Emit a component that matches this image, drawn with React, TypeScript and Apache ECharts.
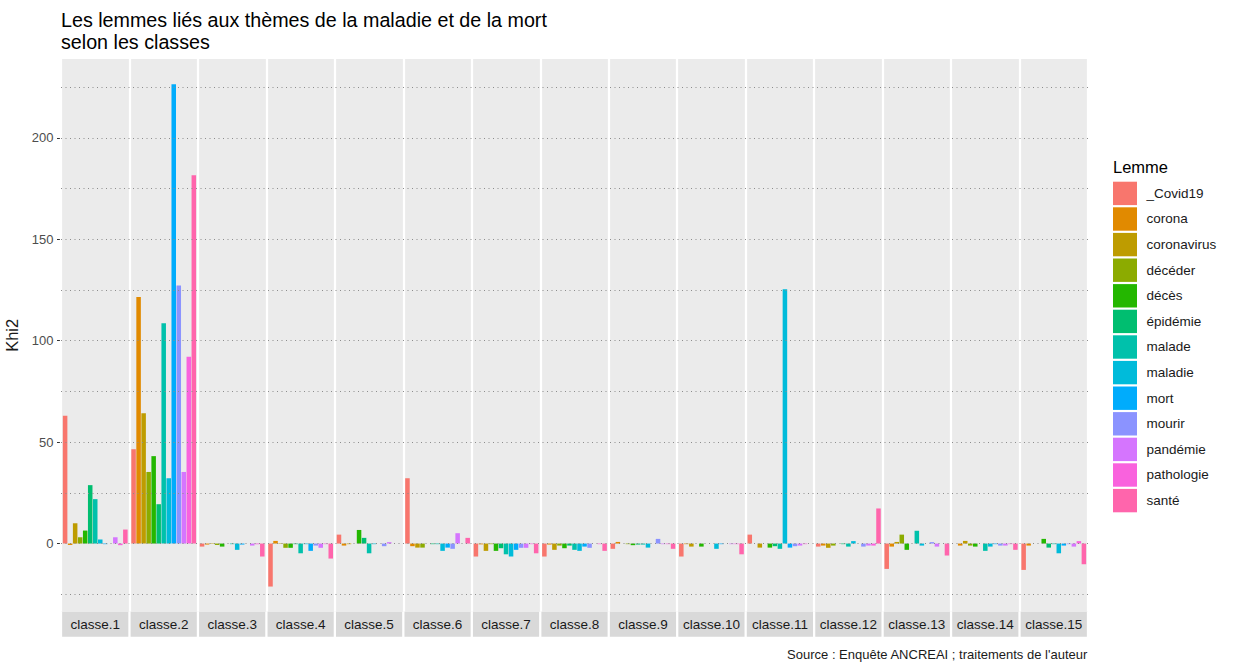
import React, { useEffect, useRef } from "react";
import * as echarts from "echarts";

const classes = [
  "classe.1", "classe.2", "classe.3", "classe.4", "classe.5", "classe.6", "classe.7", "classe.8",
  "classe.9", "classe.10", "classe.11", "classe.12", "classe.13", "classe.14", "classe.15",
];

const lemmes = [
  "_Covid19", "corona", "coronavirus", "décéder", "décès", "épidémie", "malade",
  "maladie", "mort", "mourir", "pandémie", "pathologie", "santé",
];

const lemmeColors = [
  "#F8766D", "#E18A00", "#BE9C00", "#8CAB00", "#24B700", "#00BE70", "#00C1AB",
  "#00BBDA", "#00ACFC", "#8B93FF", "#D575FE", "#F962DD", "#FF65AC",
];

// Khi2 values per lemma, one per class (classe.1 .. classe.15)
const covid19 = [63.0, 46.5, -1.5, -21.2, 4.4, 32.2, -6.4, -6.4, -2.6, -6.4, 4.4, -1.5, -12.5, 0, -13.0];
const corona = [-0.7, 121.6, -0.5, 1.3, -1.0, -1.3, -0.4, -0.5, 0.8, -0.3, 0, -1.0, -1.5, -1.0, -1.0];
const coronavirus = [10.0, 64.2, -0.2, -0.2, -0.3, -2.0, -3.6, -3.1, 0, -1.5, -2.0, -2.1, 0.8, 1.3, 0];
const deceder = [3.1, 35.3, -0.7, -2.1, 0, -2.0, -0.3, -1.0, -0.3, 0, 0, -1.0, 4.4, -1.0, 0];
const deces = [6.4, 43.1, -1.5, -2.1, 6.7, 0, -3.6, -2.3, -0.8, -1.5, -2.0, 0, -3.1, -1.5, 2.3];
const epidemie = [28.8, 19.4, 0, -0.3, 2.8, -0.3, -2.3, -1.0, -0.5, 0, -1.3, -0.3, 0, 0, -2.0];
const malade = [21.9, 108.6, -0.3, -4.8, -4.8, -0.3, -5.3, -3.1, -0.5, 0, -2.6, -1.5, 6.3, -3.6, -0.3];
const maladie = [2.0, 32.2, -3.1, -0.3, -0.3, -3.6, -6.4, -3.6, -2.0, -2.6, 125.4, 1.2, -1.0, -1.5, -4.8];
const mort = [-0.3, 226.5, -0.5, -3.6, 0, -2.0, -3.1, -1.5, 0, -0.3, -2.0, 0, 0, -0.3, -1.0];
const mourir = [0, 127.2, 0, -1.0, -1.3, -2.6, -2.1, -2.1, 2.3, 0, -1.3, -1.5, 0.7, -1.0, -0.3];
const pandemie = [3.1, 35.3, -1.0, -2.1, 0.7, 5.1, -2.1, 0, -0.3, -0.3, -1.0, -1.0, -1.5, -1.0, -1.5];
const pathologie = [-0.8, 92.1, -0.3, -0.3, 0, 0, -0.3, -0.3, -0.3, -0.3, -0.3, -1.0, 0, -0.3, 1.2];
const sante = [6.9, 181.6, -6.4, -7.4, 0, 2.8, -4.8, -3.6, -2.6, -5.3, 0, 17.3, -5.9, -3.1, -10.2];

const seriesValues = [
  covid19, corona, coronavirus, deceder, deces, epidemie, malade,
  maladie, mort, mourir, pandemie, pathologie, sante,
];

const yLabelTicks = [0, 50, 100, 150, 200];
const yGridLines = [-25, 0, 25, 50, 75, 100, 125, 150, 175, 200, 225];

const FONT = "'Liberation Sans', Arial, sans-serif";

export default function App() {
  const ref = useRef<HTMLDivElement>(null);

  useEffect(() => {
    if (!ref.current) return;
    const chart = echarts.init(ref.current, null, { renderer: "svg" });

    const barSeries = lemmes.map((name, i) => ({
      name,
      type: "bar",
      data: seriesValues[i],
      z: 3,
      barGap: "11%",
      barCategoryGap: "5.4%",
      itemStyle: { color: lemmeColors[i] },
      emphasis: { disabled: true },
    }));

    const option: any = {
      animation: false,
      textStyle: { fontFamily: FONT },
      title: {
        text: "Les lemmes liés aux thèmes de la maladie et de la mort\nselon les classes",
        left: 61,
        top: 9,
        padding: 0,
        textStyle: {
          fontFamily: FONT,
          fontSize: 19.7,
          lineHeight: 22,
          fontWeight: "normal",
          color: "#000000",
        },
      },
      grid: {
        left: 61,
        right: 151,
        top: 59,
        bottom: 54.3,
        containLabel: false,
        outerBoundsMode: "none",
        show: true,
        backgroundColor: "#EBEBEB",
        borderWidth: 0,
        z: 0,
      },
      legend: {
        data: lemmes,
        orient: "vertical",
        left: 1113,
        top: 181.7,
        padding: 0,
        itemWidth: 24,
        itemHeight: 23.4,
        itemGap: 2.2,
        icon: "rect",
        selectedMode: false,
        textStyle: {
          fontFamily: FONT,
          fontSize: 13.5,
          color: "#1A1A1A",
          padding: [0, 0, 0, 4.5],
        },
      },
      xAxis: {
        type: "category",
        data: classes,
        z: 2,
        axisLine: { show: false },
        axisTick: { show: false },
        splitLine: { show: true, lineStyle: { color: "#FFFFFF", width: 2.2 } },
        axisLabel: {
          interval: 0,
          margin: 0,
          color: "#1A1A1A",
          fontSize: 13.5,
          fontFamily: FONT,
          backgroundColor: "#D9D9D9",
          width: 66.2,
          height: 25,
          lineHeight: 25,
          align: "center",
          verticalAlign: "top",
        },
      },
      yAxis: {
        type: "value",
        min: -33.6,
        max: 238.9,
        name: "Khi2",
        nameLocation: "middle",
        nameRotate: 90,
        nameGap: 36,
        nameTextStyle: { fontFamily: FONT, fontSize: 16.5, color: "#1A1A1A" },
        axisLine: { show: false },
        splitLine: { show: false },
        axisTick: {
          show: true,
          length: 4,
          customValues: yLabelTicks,
          lineStyle: { color: "#333333", width: 1 },
        },
        axisLabel: {
          margin: 7.5,
          customValues: yLabelTicks,
          color: "#4D4D4D",
          fontSize: 13,
          fontFamily: FONT,
        },
      },
      graphic: [
        {
          type: "text",
          left: 1113,
          top: 158,
          style: {
            text: "Lemme",
            fontFamily: FONT,
            fontSize: 16.5,
            fill: "#000000",
          },
        },
        {
          type: "text",
          right: 1239 - 1088,
          top: 648,
          style: {
            text: "Source : Enquête ANCREAI ; traitements de l'auteur",
            fontFamily: FONT,
            fontSize: 13,
            fill: "#1A1A1A",
          },
        },
      ],
      series: [
        {
          name: "grid-lines",
          type: "line",
          data: [],
          z: 1,
          silent: true,
          markLine: {
            silent: true,
            symbol: ["none", "none"],
            label: { show: false },
            emphasis: { disabled: true },
            lineStyle: { color: "#8C8C8C", width: 1, type: [1, 3.5] },
            data: yGridLines.map((v) => ({ yAxis: v })),
          },
        },
        ...barSeries,
      ],
    };

    chart.setOption(option);
    return () => chart.dispose();
  }, []);

  return (
    <div
      ref={ref}
      style={{ position: "fixed", left: 0, top: 0, width: 1239, height: 666, background: "#FFFFFF" }}
    />
  );
}
